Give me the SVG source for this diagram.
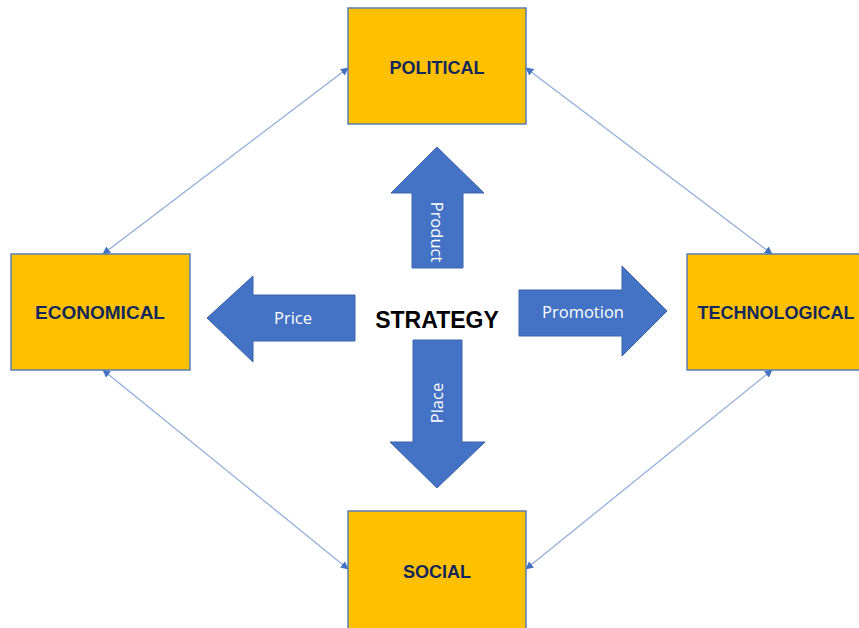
<svg xmlns="http://www.w3.org/2000/svg" width="859" height="628" viewBox="0 0 859 628">
<style>
.box{fill:#FFC000;stroke:#5B7DB1;stroke-width:1.5}
.bt{font-family:"Liberation Sans",Arial,sans-serif;font-weight:bold;font-size:18px;fill:#12285C;text-anchor:middle}
.ba{fill:#4472C4;stroke:#3A64AE;stroke-width:1}
.al{font-family:"Open Sans","Liberation Sans",sans-serif;font-size:16.5px;fill:#FFFFFF;text-anchor:middle}
.con{stroke:#8FAADC;stroke-width:1.2;fill:none;marker-start:url(#ah);marker-end:url(#ah)}
</style>
<defs>
<marker id="ah" viewBox="0 0 10 10" refX="9" refY="5" markerWidth="8" markerHeight="8" markerUnits="userSpaceOnUse" orient="auto-start-reverse">
<path d="M0,0 L10,5 L0,10 z" fill="#4472C4"/>
</marker>
</defs>
<rect width="859" height="628" fill="#FFFFFF"/>
<g id="connectors">
<line class="con" x1="103" y1="254" x2="348" y2="68"/>
<line class="con" x1="772" y1="254" x2="526" y2="68"/>
<line class="con" x1="103" y1="370" x2="348" y2="569"/>
<line class="con" x1="772" y1="370" x2="526" y2="569"/>
</g>
<g id="political">
<rect class="box" x="348" y="8" width="178" height="116"/>
<text class="bt" x="437" y="74">POLITICAL</text>
</g>
<g id="economical">
<rect class="box" x="11" y="254" width="179" height="116"/>
<text class="bt" x="100" y="319" textLength="130" lengthAdjust="spacingAndGlyphs">ECONOMICAL</text>
</g>
<g id="technological">
<rect class="box" x="687" y="254" width="180" height="116"/>
<text class="bt" x="776" y="319">TECHNOLOGICAL</text>
</g>
<g id="social">
<rect class="box" x="348" y="511" width="178" height="118"/>
<text class="bt" x="437" y="578">SOCIAL</text>
</g>
<g id="product">
<path class="ba" d="M437,147 L484,193 L463,193 L463,268 L412,268 L412,193 L391,193 Z"/>
<text class="al" transform="translate(431,232) rotate(90)">Product</text>
</g>
<g id="place">
<path class="ba" d="M413,340 L462,340 L462,442 L485,442 L437,488 L390,442 L413,442 Z"/>
<text class="al" transform="translate(443,403) rotate(-90)">Place</text>
</g>
<g id="price">
<path class="ba" d="M207,318 L253,276 L253,295 L355,295 L355,341 L253,341 L253,362 Z"/>
<text class="al" x="293" y="324">Price</text>
</g>
<g id="promotion">
<path class="ba" d="M519,290 L622,290 L622,266 L667,311 L622,356 L622,336 L519,336 Z"/>
<text class="al" x="583" y="318">Promotion</text>
</g>
<g id="strategy">
<text x="437" y="328" font-family="Liberation Sans,Arial,sans-serif" font-weight="bold" font-size="23" fill="#000000" text-anchor="middle">STRATEGY</text>
</g>
</svg>
